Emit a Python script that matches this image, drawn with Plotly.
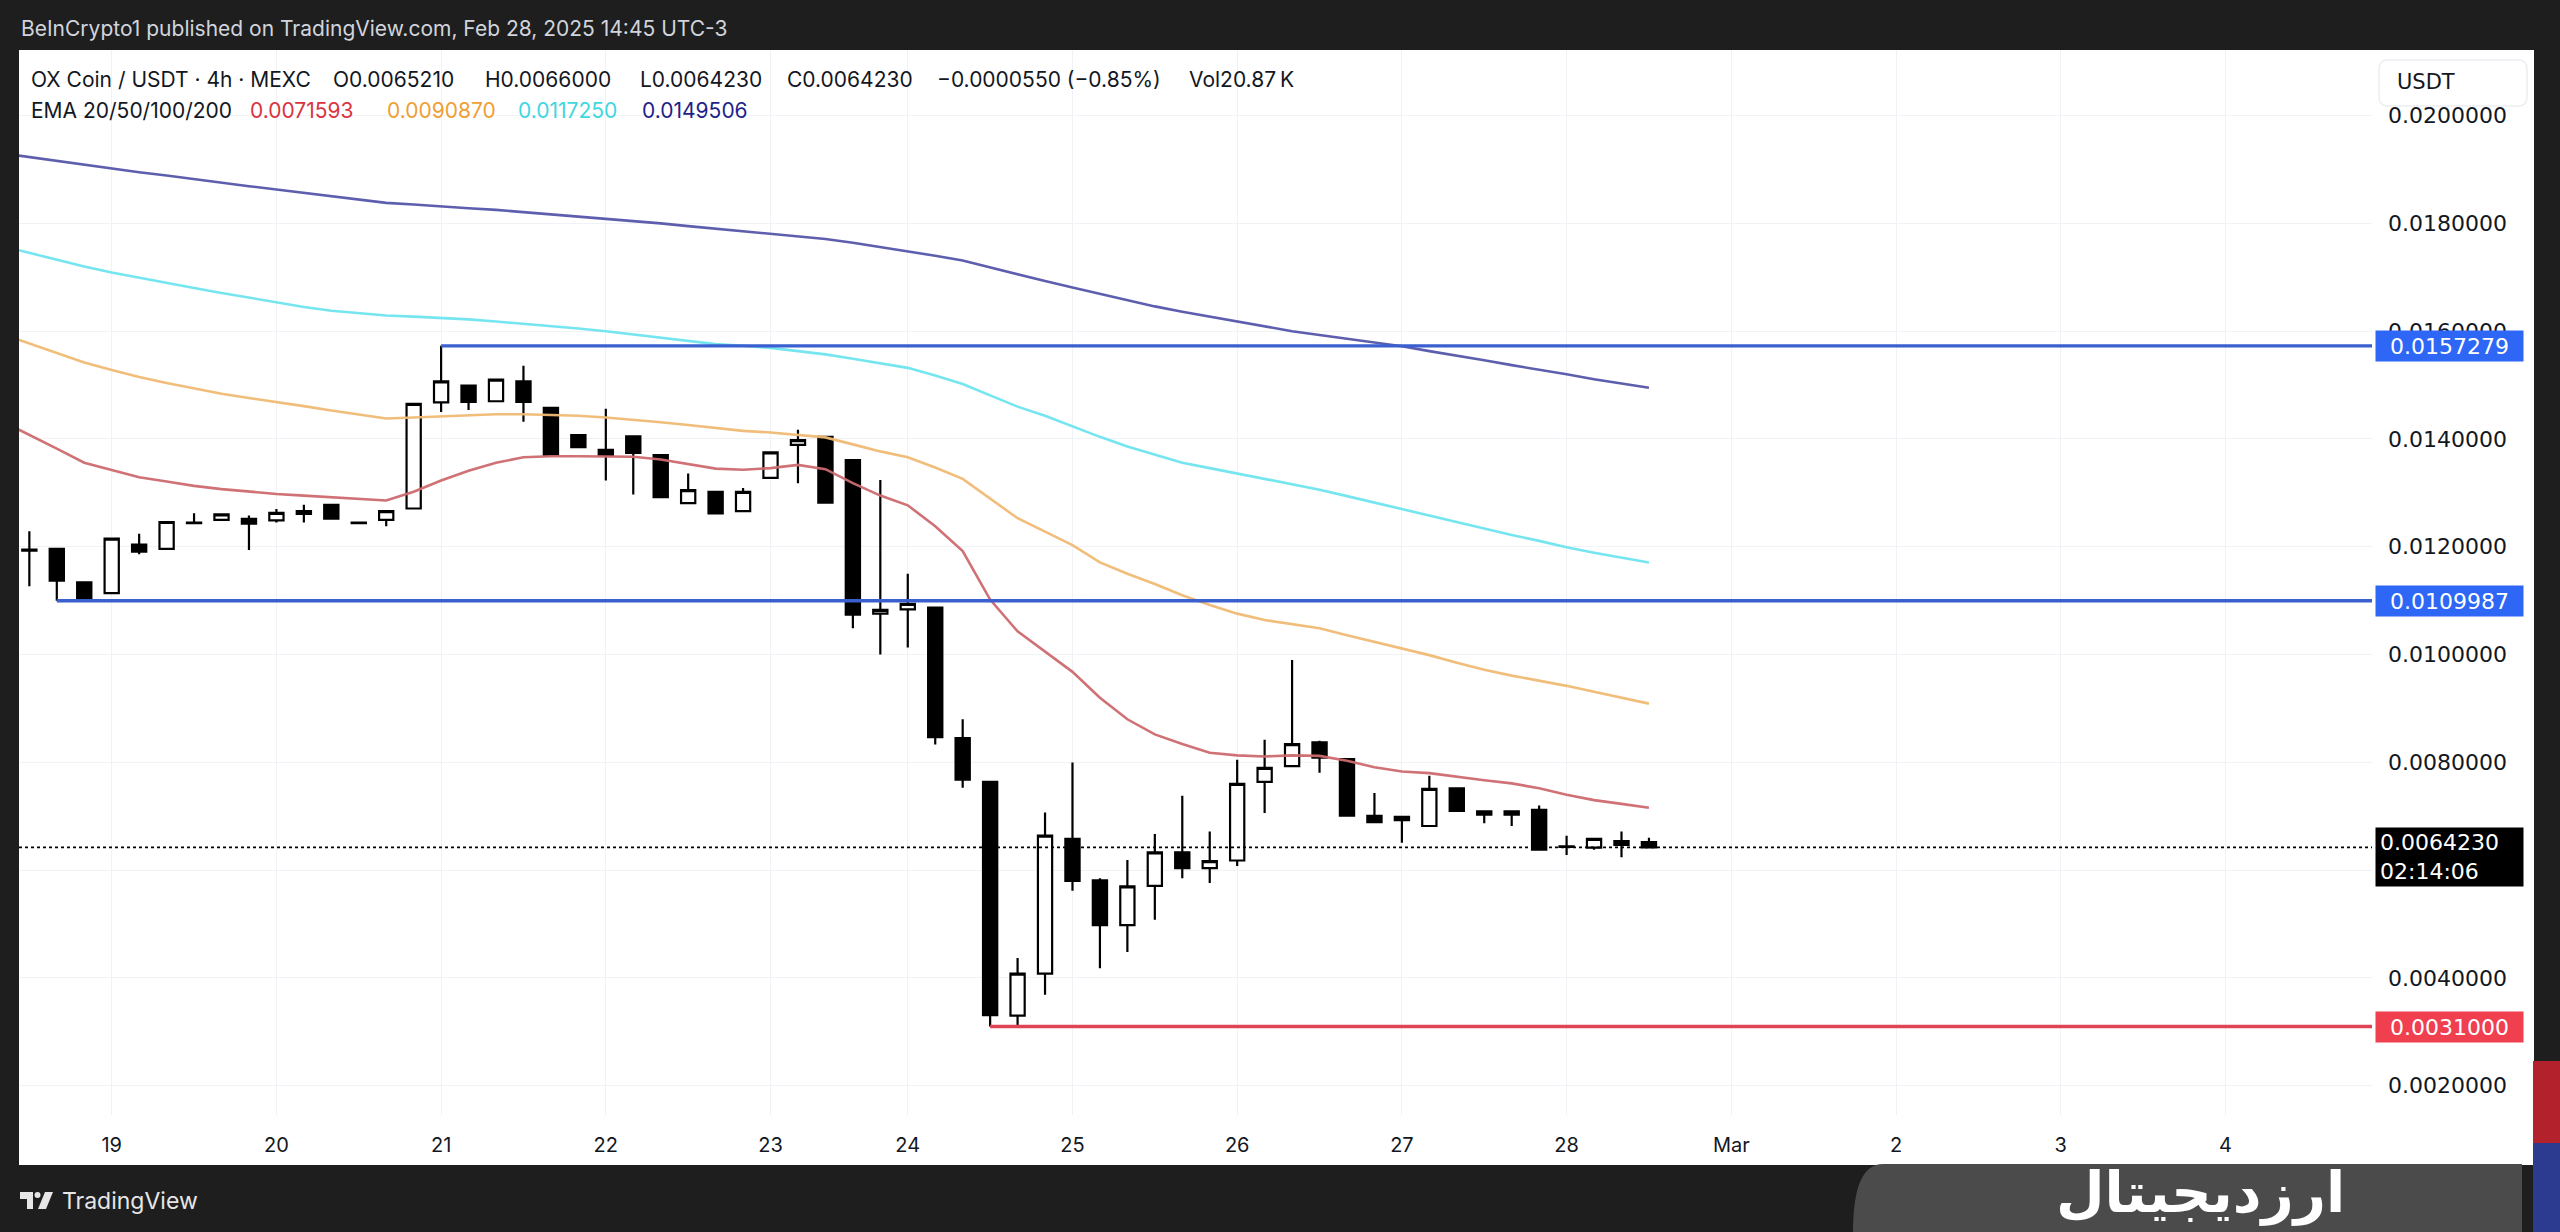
import plotly.graph_objects as go

# ---------------- data ----------------
candle_idx = list(range(60))
opens = [0.01195, 0.01196, 0.01134, 0.01114, 0.01204, 0.01196, 0.01244, 0.01250, 0.01252, 0.01249,
         0.01266, 0.01278, 0.01245, 0.01250, 0.01271, 0.01468, 0.01499, 0.01470, 0.01507, 0.01458,
         0.01407, 0.01380, 0.01405, 0.01370, 0.01281, 0.01302, 0.01266, 0.01328, 0.01389, 0.01404,
         0.01361, 0.01076, 0.01084, 0.01087, 0.00845, 0.00764, 0.00330, 0.00408, 0.00658, 0.00581,
         0.00498, 0.00571, 0.00633, 0.00604, 0.00618, 0.00764, 0.00793, 0.00837, 0.00806, 0.00701,
         0.00693, 0.00682, 0.00752, 0.00709, 0.00709, 0.00712, 0.00643, 0.00642, 0.00654, 0.006521]
highs = [0.01229, 0.01196, 0.01134, 0.01215, 0.01224, 0.01246, 0.01262, 0.01260, 0.01258, 0.01270,
         0.01278, 0.01278, 0.01245, 0.01266, 0.01465, 0.0157279, 0.01499, 0.01510, 0.01536, 0.01458,
         0.01407, 0.01456, 0.01405, 0.01370, 0.01336, 0.01302, 0.01309, 0.01375, 0.01417, 0.01404,
         0.01361, 0.01324, 0.01150, 0.01087, 0.00880, 0.00764, 0.00437, 0.00707, 0.00800, 0.00585,
         0.00619, 0.00667, 0.00738, 0.00672, 0.00805, 0.00842, 0.00990, 0.00840, 0.00806, 0.00743,
         0.00699, 0.00775, 0.00752, 0.00709, 0.00709, 0.00720, 0.00664, 0.00658, 0.00672, 0.0066]
lows = [0.01127, 0.0109987, 0.01100, 0.01114, 0.01186, 0.01196, 0.01244, 0.01250, 0.01194, 0.01245,
        0.01245, 0.01252, 0.01244, 0.01238, 0.01271, 0.01450, 0.01454, 0.01470, 0.01432, 0.01370,
        0.01385, 0.01323, 0.01297, 0.01290, 0.01281, 0.01262, 0.01266, 0.01328, 0.01318, 0.01282,
        0.01049, 0.01000, 0.01013, 0.00833, 0.00753, 0.00310, 0.00310, 0.00369, 0.00562, 0.00418,
        0.00448, 0.00508, 0.00585, 0.00576, 0.00608, 0.00706, 0.00793, 0.00781, 0.00701, 0.00687,
        0.00651, 0.00682, 0.00710, 0.00687, 0.00682, 0.00638, 0.00628, 0.00638, 0.00624, 0.006423]
closes = [0.01193, 0.01137, 0.01104, 0.01215, 0.01191, 0.01246, 0.01245, 0.01260, 0.01243, 0.01263,
          0.01261, 0.01252, 0.01244, 0.01266, 0.01465, 0.01507, 0.01469, 0.01510, 0.01469, 0.01370,
          0.01385, 0.01370, 0.01374, 0.01292, 0.01305, 0.01262, 0.01302, 0.01375, 0.01398, 0.01282,
          0.01074, 0.01083, 0.01094, 0.00847, 0.00768, 0.00331, 0.00408, 0.00664, 0.00580, 0.00498,
          0.00570, 0.00633, 0.00604, 0.00617, 0.00760, 0.00790, 0.00834, 0.00809, 0.00701, 0.00689,
          0.00699, 0.00751, 0.00710, 0.00703, 0.00703, 0.00638, 0.00644, 0.00658, 0.00647, 0.006423]

ema_idx = list(range(-1, 60))
ema20 = [0.01433, 0.01408, 0.01382, 0.01356, 0.01343, 0.01329, 0.01321, 0.01313, 0.01307, 0.01302,
         0.01298, 0.01295, 0.01292, 0.01289, 0.01286, 0.01302, 0.01323, 0.01341, 0.01356, 0.01366,
         0.01368, 0.01368, 0.01368, 0.01367, 0.01362, 0.01354, 0.01345, 0.01343, 0.01346, 0.01352,
         0.01344, 0.01318, 0.01295, 0.01277, 0.01238, 0.01192, 0.01102, 0.01043, 0.01006, 0.00968,
         0.00920, 0.00880, 0.00852, 0.00834, 0.00818, 0.00813, 0.00811, 0.00813, 0.00812, 0.00803,
         0.00791, 0.00783, 0.00780, 0.00773, 0.00767, 0.00761, 0.00752, 0.00740, 0.00730, 0.00723,
         0.00716]
ema50 = [0.01595, 0.01577, 0.01559, 0.01542, 0.01528, 0.01515, 0.01504, 0.01494, 0.01484, 0.01476,
         0.01469, 0.01461, 0.01453, 0.01445, 0.01438, 0.01440, 0.01442, 0.01444, 0.01446, 0.01446,
         0.01445, 0.01443, 0.01440, 0.01436, 0.01431, 0.01426, 0.01420, 0.01415, 0.01412, 0.01408,
         0.01403, 0.01390, 0.01377, 0.01366, 0.01347, 0.01326, 0.01290, 0.01253, 0.01228, 0.01203,
         0.01171, 0.01150, 0.01131, 0.01110, 0.01092, 0.01076, 0.01064, 0.01056, 0.01049, 0.01036,
         0.01024, 0.01011, 0.00999, 0.00985, 0.00972, 0.00961, 0.00952, 0.00942, 0.00931, 0.00920,
         0.00909]
ema100 = [0.01758, 0.01745, 0.01733, 0.01720, 0.01709, 0.01699, 0.01690, 0.01680, 0.01671, 0.01662,
          0.01653, 0.01645, 0.01638, 0.01633, 0.01629, 0.01627, 0.01625, 0.01622, 0.01618, 0.01614,
          0.01610, 0.01605, 0.01600, 0.01594, 0.01588, 0.01582, 0.01576, 0.01573, 0.01569, 0.01563,
          0.01557, 0.01549, 0.01541, 0.01532, 0.01518, 0.01502, 0.01481, 0.01460, 0.01443, 0.01423,
          0.01404, 0.01386, 0.01371, 0.01356, 0.01346, 0.01336, 0.01326, 0.01316, 0.01306, 0.01294,
          0.01282, 0.01269, 0.01257, 0.01245, 0.01233, 0.01222, 0.01211, 0.01199, 0.01189, 0.01180,
          0.01171]
ema200 = [0.01930, 0.01923, 0.01915, 0.01908, 0.01902, 0.01895, 0.01889, 0.01882, 0.01876, 0.01869,
          0.01863, 0.01857, 0.01850, 0.01844, 0.01838, 0.01835, 0.01831, 0.01828, 0.01825, 0.01821,
          0.01817, 0.01813, 0.01809, 0.01804, 0.01800, 0.01795, 0.01790, 0.01785, 0.01780, 0.01775,
          0.01771, 0.01764, 0.01756, 0.01749, 0.01740, 0.01731, 0.01718, 0.01705, 0.01693, 0.01681,
          0.01669, 0.01657, 0.01646, 0.01636, 0.01627, 0.01618, 0.01609, 0.01600, 0.01593, 0.01586,
          0.01579, 0.01572, 0.01563, 0.01555, 0.01546, 0.01537, 0.01529, 0.01520, 0.01511, 0.01503,
          0.01495]

day_ticks = [3, 9, 15, 21, 27, 32, 38, 44, 50, 56, 62, 68, 74, 80]
day_labels = ['19', '20', '21', '22', '23', '24', '25', '26', '27', '28', 'Mar', '2', '3', '4']
price_ticks = [0.002, 0.004, 0.006, 0.008, 0.010, 0.012, 0.014, 0.016, 0.018, 0.020]

resist_level, resist_start = 0.0157279, 15
support_level, support_start = 0.0109987, 1
low_level, low_start = 0.0031, 35
last_price = 0.006423
countdown = '02:14:06'

legend_items = [('OX Coin / USDT · 4h · MEXC', 29, '#131722'),
                ('O0.0065210', 331, '#131722'), ('H0.0066000', 483, '#131722'),
                ('L0.0064230', 638, '#131722'), ('C0.0064230', 785, '#131722'),
                ('−0.0000550 (−0.85%)', 935, '#131722'), ('Vol20.87\u2009K', 1187, '#131722')]
ema_legend = [('EMA 20/50/100/200', 29, '#131722'), ('0.0071593', 248, '#d9343f'),
              ('0.0090870', 385, '#ef9f34'), ('0.0117250', 516, '#3fd7e0'),
              ('0.0149506', 640, '#1f1f8a')]

# ---------------- geometry ----------------
W, H = 2560, 1232
PL, PR, PT, PB = 19, 2372, 50, 1115
X_RANGE = [-0.377, 85.34]
Y_RANGE = [0.001458, 0.021217]


def xp(px):
    return (px - PL) / (PR - PL)


def yp(py):
    return (PB - py) / (PB - PT)


AX_FONT = 'DejaVu Sans'
TXT_FONT = 'Inter'

# y tick labels: the one sitting under the current-price tag is hidden (as in the reference)
px_per_unit = (PB - PT) / (Y_RANGE[1] - Y_RANGE[0])
price_ticktext = ['' if abs(t - last_price) * px_per_unit < 36 else f'{t:.7f}' for t in price_ticks]

fig = go.Figure()

ema_styles = [(ema200, 'rgba(85,85,170,0.95)'), (ema100, 'rgba(110,228,238,0.95)'),
              (ema50, 'rgba(240,185,115,0.95)'), (ema20, 'rgba(205,105,110,0.95)')]
for vals, col in ema_styles:
    fig.add_trace(go.Scatter(x=ema_idx, y=vals, mode='lines',
                             line=dict(color=col, width=2.6), hoverinfo='skip'))

fig.add_trace(go.Candlestick(
    x=candle_idx, open=opens, high=highs, low=lows, close=closes,
    increasing=dict(line=dict(color='#000000', width=2.2), fillcolor='#ffffff'),
    decreasing=dict(line=dict(color='#000000', width=2.2), fillcolor='#000000'),
    whiskerwidth=0))

shapes = []
# white chart panel
shapes.append(dict(type='rect', xref='paper', yref='paper', x0=xp(19), x1=xp(2534),
                   y0=yp(1165), y1=yp(50), fillcolor='#ffffff', line=dict(width=0), layer='below'))
# level lines
for lvl, start, col in [(resist_level, resist_start, '#3a5fcf'),
                        (support_level, support_start, '#3a5fcf'),
                        (low_level, low_start, '#dd4455')]:
    shapes.append(dict(type='line', xref='x', yref='y', x0=start, x1=X_RANGE[1], y0=lvl, y1=lvl,
                       line=dict(color=col, width=3.4), layer='above'))
# last price dotted line
shapes.append(dict(type='line', xref='paper', yref='y', x0=0, x1=1, y0=last_price, y1=last_price,
                   line=dict(color='#000000', width=1.6, dash='dot'), layer='above'))
# USDT box (rounded)
bx0, bx1, by0, by1, r = 2379, 2527, 60, 106, 9
path = (f'M {xp(bx0 + r)},{yp(by0)} L {xp(bx1 - r)},{yp(by0)} Q {xp(bx1)},{yp(by0)} {xp(bx1)},{yp(by0 + r)} '
        f'L {xp(bx1)},{yp(by1 - r)} Q {xp(bx1)},{yp(by1)} {xp(bx1 - r)},{yp(by1)} '
        f'L {xp(bx0 + r)},{yp(by1)} Q {xp(bx0)},{yp(by1)} {xp(bx0)},{yp(by1 - r)} '
        f'L {xp(bx0)},{yp(by0 + r)} Q {xp(bx0)},{yp(by0)} {xp(bx0 + r)},{yp(by0)} Z')
shapes.append(dict(type='path', xref='paper', yref='paper', path=path, fillcolor='#ffffff',
                   line=dict(color='#eceef2', width=1.5), layer='above'))
# watermark backdrop (bottom right)
wx0, wx1, wy0, wy1 = 1853, 2522, 1164, 1232
wpath = (f'M {xp(wx0 + 30)},{yp(wy0)} L {xp(wx1)},{yp(wy0)} L {xp(wx1)},{yp(wy1)} L {xp(wx0)},{yp(wy1)} '
         f'Q {xp(wx0)},{yp(wy0)} {xp(wx0 + 30)},{yp(wy0)} Z')
shapes.append(dict(type='path', xref='paper', yref='paper', path=wpath, fillcolor='#4b4b4b',
                   line=dict(width=0), layer='below'))
# flag strip at right edge
shapes.append(dict(type='rect', xref='paper', yref='paper', x0=xp(2533), x1=xp(2560),
                   y0=yp(1143), y1=yp(1061), fillcolor='#b3212c', line=dict(width=0), layer='above'))
shapes.append(dict(type='rect', xref='paper', yref='paper', x0=xp(2533), x1=xp(2560),
                   y0=yp(1232), y1=yp(1143), fillcolor='#2c3b90', line=dict(width=0), layer='above'))
# TradingView logo
logo_col = '#e6e6e6'
shapes.append(dict(type='rect', xref='paper', yref='paper', x0=xp(20), x1=xp(33), y0=yp(1199), y1=yp(1192),
                   fillcolor=logo_col, line=dict(width=0), layer='above'))
shapes.append(dict(type='rect', xref='paper', yref='paper', x0=xp(27), x1=xp(33), y0=yp(1209), y1=yp(1192),
                   fillcolor=logo_col, line=dict(width=0), layer='above'))
shapes.append(dict(type='circle', xref='paper', yref='paper', x0=xp(34.5), x1=xp(40.5), y0=yp(1198), y1=yp(1192),
                   fillcolor=logo_col, line=dict(width=0), layer='above'))
shapes.append(dict(type='path', xref='paper', yref='paper',
                   path=f'M {xp(38)},{yp(1209)} L {xp(45)},{yp(1192)} L {xp(53)},{yp(1192)} L {xp(46)},{yp(1209)} Z',
                   fillcolor=logo_col, line=dict(width=0), layer='above'))

annotations = []
# header
annotations.append(dict(xref='paper', yref='paper', x=xp(19), y=yp(28), xanchor='left', yanchor='middle',
                        text='BeInCrypto1 published on TradingView.com, Feb 28, 2025 14:45 UTC-3',
                        showarrow=False, font=dict(family=TXT_FONT, size=21, color='#d1d4dc')))
annotations.append(dict(xref='paper', yref='paper', x=xp(60), y=yp(1201), xanchor='left', yanchor='middle',
                        text='TradingView', showarrow=False,
                        font=dict(family=TXT_FONT, size=23, color=logo_col)))
for txt, px, col in legend_items:
    annotations.append(dict(xref='paper', yref='paper', x=xp(px), y=yp(80), xanchor='left', yanchor='middle',
                            text=txt, showarrow=False, font=dict(family=TXT_FONT, size=21, color=col)))
for txt, px, col in ema_legend:
    annotations.append(dict(xref='paper', yref='paper', x=xp(px), y=yp(111), xanchor='left', yanchor='middle',
                            text=txt, showarrow=False, font=dict(family=TXT_FONT, size=21, color=col)))
# USDT
annotations.append(dict(xref='paper', yref='paper', x=xp(2395), y=yp(82), xanchor='left', yanchor='middle',
                        text='USDT', showarrow=False, font=dict(family=AX_FONT, size=21, color='#131722')))
# price tags
for lvl, bg, fg in [(resist_level, '#2e66f5', '#ffffff'), (support_level, '#2e66f5', '#ffffff'),
                    (low_level, '#f0404f', '#ffffff')]:
    annotations.append(dict(xref='paper', yref='y', x=xp(2375), y=lvl, xanchor='left', yanchor='middle',
                            text=f'{lvl:.7f}', showarrow=False, bgcolor=bg, width=139, height=22,
                            borderpad=4, align='center',
                            font=dict(family=AX_FONT, size=22, color=fg)))
annotations.append(dict(xref='paper', yref='y', x=xp(2375), y=last_price, xanchor='left', yanchor='top',
                        yshift=20, text=f'{last_price:.7f}<br>{countdown}', showarrow=False,
                        bgcolor='#000000', width=139, height=50, borderpad=4, align='left',
                        font=dict(family=AX_FONT, size=22, color='#ffffff')))
# watermark text
annotations.append(dict(xref='paper', yref='paper', x=xp(2200), y=yp(1193), xanchor='center', yanchor='middle',
                        text='<b>ارزدیجیتال</b>', showarrow=False,
                        font=dict(family='DejaVu Sans', size=56, color='#ffffff')))

fig.update_layout(
    width=W, height=H,
    margin=dict(l=PL, r=W - PR, t=PT, b=H - PB, pad=0),
    paper_bgcolor='#1e1e1e', plot_bgcolor='rgba(0,0,0,0)',
    showlegend=False, boxgap=0.26,
    shapes=shapes, annotations=annotations,
    xaxis=dict(range=X_RANGE, tickmode='array', tickvals=day_ticks, ticktext=day_labels,
               showgrid=True, gridcolor='#f1f2f5', gridwidth=1, zeroline=False, showline=False,
               ticks='', ticklabelstandoff=16, rangeslider=dict(visible=False),
               tickfont=dict(family=TXT_FONT, size=20, color='#131722'), fixedrange=True),
    yaxis=dict(range=Y_RANGE, side='right', tickmode='array', tickvals=price_ticks,
               ticktext=price_ticktext, showgrid=True, gridcolor='#f1f2f5', gridwidth=1,
               zeroline=False, showline=False, ticks='', ticklabelstandoff=15,
               tickfont=dict(family=AX_FONT, size=22, color='#131722'), fixedrange=True),
)

fig.write_html('out.html', config={'displayModeBar': False},
               post_script="document.body.style.margin='0';document.body.style.overflow='hidden';")
